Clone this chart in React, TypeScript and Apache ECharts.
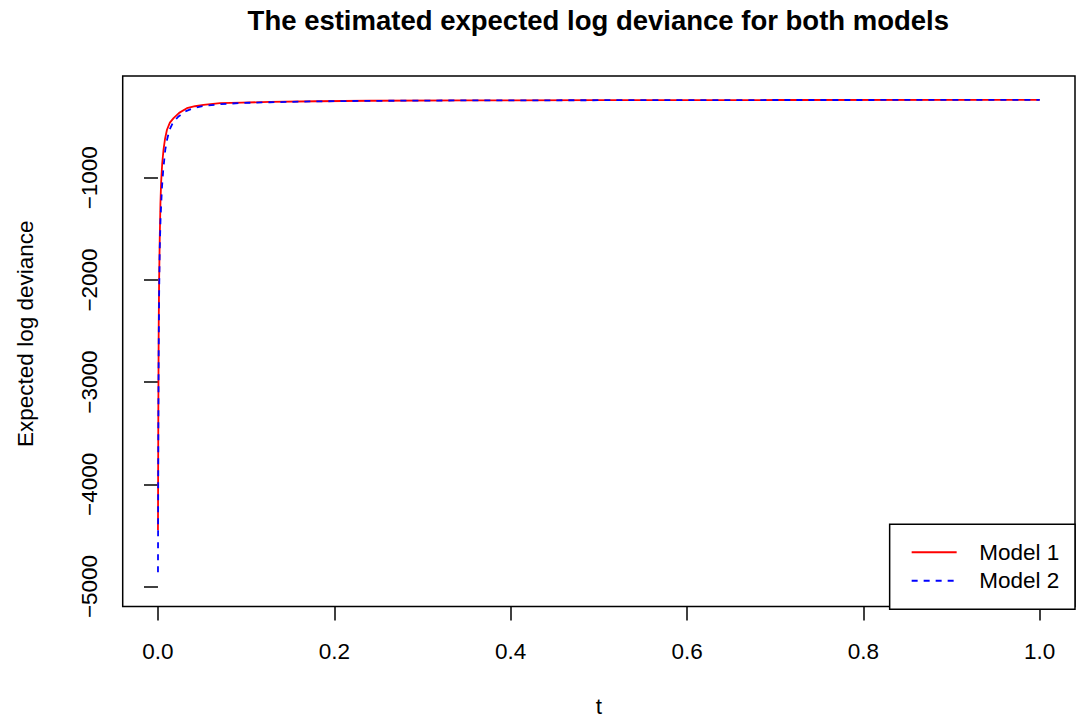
import React, { useEffect, useRef } from "react";
import * as echarts from "echarts";

const titleText = "The estimated expected log deviance for both models";
const xAxisTitle = "t";
const yAxisTitle = "Expected log deviance";
const seriesNames = ["Model 1", "Model 2"];

const xTicks = [0, 0.2, 0.4, 0.6, 0.8, 1.0];
const yTicks = [-5000, -4000, -3000, -2000, -1000];

const model1T = [0, 0.0004, 0.0008, 0.0013, 0.002, 0.0028, 0.0036, 0.0048, 0.0063, 0.008, 0.0102, 0.0135, 0.0177, 0.024, 0.0328, 0.042, 0.0516, 0.0705, 0.095, 0.127, 0.18, 0.24, 0.35, 0.5, 0.7, 1.0];
const model1Y = [-4449, -3300, -2500, -2000, -1600, -1250, -1040, -860, -725, -620, -530, -460, -416, -365, -319, -300, -287, -270, -264, -258, -251, -246, -243, -241, -239, -238];

const model2T = [0, 0.0004, 0.0008, 0.0013, 0.002, 0.003, 0.0045, 0.006, 0.0083, 0.0105, 0.0131, 0.017, 0.0233, 0.031, 0.0403, 0.052, 0.0705, 0.095, 0.127, 0.18, 0.24, 0.35, 0.5, 0.7, 1.0];
const model2Y = [-4861, -3500, -2700, -2150, -1700, -1380, -1100, -920, -725, -620, -530, -460, -400, -350, -319, -296, -280, -268, -261, -252, -247, -243, -241, -239, -238];

const FONT = "'Liberation Sans', Arial, Helvetica, sans-serif";

export default function App() {
  const ref = useRef<HTMLDivElement>(null);
  useEffect(() => {
    if (!ref.current) return;
    const chart = echarts.init(ref.current, undefined, { renderer: "svg" });
    const d1 = model1T.map((t, i) => [t, model1Y[i]]);
    const d2 = model2T.map((t, i) => [t, model2Y[i]]);
    const minus = (v: number) => (v < 0 ? "\u2212" + Math.abs(v) : String(v));
    chart.setOption({
      animation: false,
      backgroundColor: "#fff",
      textStyle: { fontFamily: FONT, color: "#000" },
      title: {
        text: titleText,
        left: 598.3,
        top: 7,
        padding: 0,
        textAlign: "center",
        textStyle: { fontFamily: FONT, fontSize: 27.5, fontWeight: "bold", color: "#000", lineHeight: 27.5 },
      },
      grid: {
        left: 122.7,
        right: 1,
        top: 76,
        bottom: 113.7,
        show: true,
        borderColor: "#000",
        borderWidth: 1.5,
        backgroundColor: "transparent",
        containLabel: false,
      },
      legend: {
        orient: "vertical",
        right: 1,
        bottom: 113.7,
        padding: [14, 15.7, 14.6, 21],
        itemWidth: 45,
        itemHeight: 14,
        itemGap: 0.4,
        borderColor: "#000",
        borderWidth: 1.5,
        borderRadius: 0,
        backgroundColor: "#fff",
        itemStyle: { opacity: 0 },
        textStyle: { fontFamily: FONT, fontSize: 22.5, lineHeight: 28, color: "#000", padding: [0, 0, 0, 17.6] },
        data: seriesNames,
      },
      xAxis: {
        type: "value",
        min: -0.04,
        max: 1.04,
        name: xAxisTitle,
        nameLocation: "middle",
        nameGap: 88.8,
        nameTextStyle: { fontFamily: FONT, fontSize: 22.5, color: "#000", lineHeight: 22.5 },
        axisLine: { show: false },
        splitLine: { show: false },
        axisTick: {
          show: true,
          length: 14,
          customValues: xTicks,
          lineStyle: { color: "#000", width: 1.5 },
        },
        axisLabel: {
          customValues: xTicks,
          margin: 33.4,
          fontFamily: FONT,
          fontSize: 22.5,
          lineHeight: 22.5,
          color: "#000",
          formatter: (v: number) => v.toFixed(1),
        },
      },
      yAxis: {
        type: "value",
        min: -5195,
        max: -4,
        name: yAxisTitle,
        nameLocation: "middle",
        nameGap: 86,
        nameRotate: 90,
        nameTextStyle: { fontFamily: FONT, fontSize: 22.5, color: "#000", lineHeight: 22.5, padding: [0, 0, 0, 15] },
        axisLine: { show: false },
        splitLine: { show: false },
        axisTick: {
          show: true,
          length: 14,
          customValues: yTicks,
          lineStyle: { color: "#000", width: 1.5 },
        },
        axisLabel: {
          customValues: yTicks,
          rotate: 90,
          margin: 22.35,
          fontFamily: FONT,
          fontSize: 22.5,
          lineHeight: 22.5,
          color: "#000",
          formatter: (v: number) => minus(v),
        },
      },
      series: [
        {
          name: seriesNames[0],
          type: "line",
          data: d1,
          symbol: "none",
          showSymbol: false,
          lineStyle: { color: "#ff0000", width: 1.8, type: "solid" },
          itemStyle: { color: "#ff0000" },
        },
        {
          name: seriesNames[1],
          type: "line",
          data: d2,
          symbol: "none",
          showSymbol: false,
          lineStyle: { color: "#0000ff", width: 1.8, type: [6, 6] },
          itemStyle: { color: "#0000ff" },
        },
      ],
    });
    return () => chart.dispose();
  }, []);
  return (
    <div
      ref={ref}
      style={{ position: "fixed", left: 0, top: 0, width: 1076, height: 723, background: "#fff" }}
    />
  );
}
